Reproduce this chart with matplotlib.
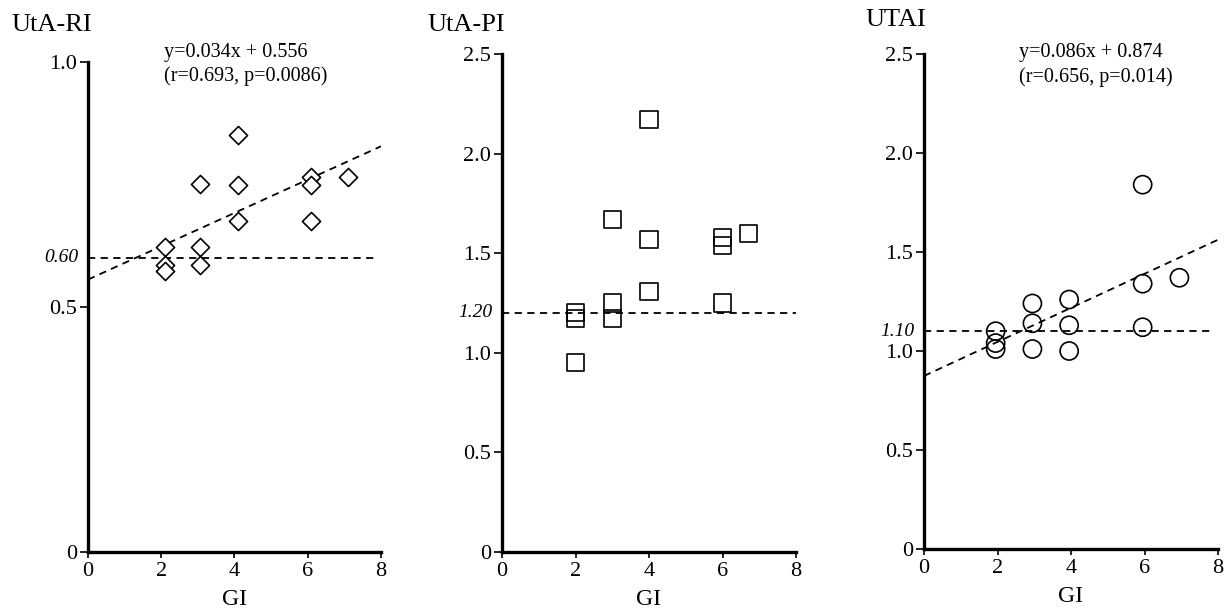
import matplotlib
matplotlib.use("Agg")
import matplotlib.pyplot as plt
import numpy as np

plt.rcParams["font.family"] = ["Liberation Serif", "DejaVu Serif"]

# UtA-RI panel
gi_ri = [4.1, 3.05, 4.1, 6.1, 6.1, 7.1, 4.1, 6.1, 2.1, 3.05, 2.1, 2.1, 3.05]
ri = [0.852, 0.752, 0.750, 0.765, 0.750, 0.765, 0.675, 0.675, 0.623, 0.623, 0.586, 0.573, 0.586]
ri_fit = [0.034, 0.556]
ri_cut = 0.60

# UtA-PI panel
gi_pi = [4, 3, 4, 6, 6, 6.7, 4, 3, 6, 3, 2, 2, 2]
pi = [2.17, 1.67, 1.57, 1.58, 1.54, 1.60, 1.31, 1.25, 1.25, 1.17, 1.20, 1.17, 0.95]
pi_cut = 1.20

# UTAI panel
gi_ut = [5.95, 5.95, 6.95, 2.95, 3.95, 2.95, 3.95, 5.95, 1.95, 1.95, 1.95, 2.95, 3.95]
ut = [1.84, 1.34, 1.37, 1.24, 1.26, 1.14, 1.13, 1.12, 1.10, 1.04, 1.01, 1.01, 1.00]
ut_fit = [0.086, 0.874]
ut_cut = 1.10

x_ticks = [0, 2, 4, 6, 8]

fig = plt.figure(figsize=(12.29, 6.15), dpi=100)
W, H = 1229, 615


def make_ax(left, top, right, bottom, ymax, yticks, ylabels):
    ax = fig.add_axes([left / W, 1 - bottom / H, (right - left) / W, (bottom - top) / H])
    ax.set_xlim(0, 8)
    ax.set_ylim(0, ymax)
    for s in ["top", "right"]:
        ax.spines[s].set_visible(False)
    for s in ["left", "bottom"]:
        ax.spines[s].set_linewidth(2.4)
    ax.set_xticks(x_ticks)
    ax.set_yticks(yticks)
    ax.set_yticklabels(ylabels)
    ax.tick_params(axis="y", length=6, width=1.2, labelsize=16, pad=2)
    ax.tick_params(axis="x", length=4, width=1.2, labelsize=16, pad=3)
    ax.set_xlabel("GI", fontsize=17, labelpad=6)
    return ax


dash = (0, (4, 3))

# panel 1
ax1 = make_ax(88, 62, 381, 552, 1.0, [0, 0.5, 1.0], ["0", "0.5", "1.0"])
ax1.scatter(gi_ri, ri, marker="D", s=85, facecolors="white", edgecolors="black",
            linewidths=1.2, zorder=3, clip_on=False)
xx = np.array([0, 8])
ax1.plot(xx, ri_fit[0] * xx + ri_fit[1], color="black", lw=1.3, linestyle=dash)
ax1.plot([0, 7.8], [ri_cut, ri_cut], color="black", lw=1.3, linestyle=dash)
ax1.text(-0.25, ri_cut, "0.60", style="italic", fontsize=14, ha="right", va="center")
fig.text(11 / W, 1 - 25 / H, "UtA-RI", fontsize=19, ha="left", va="center")
fig.text(164 / W, 1 - 52 / H, "y=0.034x + 0.556", fontsize=14.5, ha="left", va="center")
fig.text(164 / W, 1 - 76 / H, "(r=0.693, p=0.0086)", fontsize=14.5, ha="left", va="center")

# panel 2
ax2 = make_ax(502, 54, 796, 552, 2.5, [0, 0.5, 1.0, 1.5, 2.0, 2.5],
              ["0", "0.5", "1.0", "1.5", "2.0", "2.5"])
ax2.scatter(gi_pi, pi, marker="s", s=150, facecolors="none", edgecolors="black",
            linewidths=1.2, zorder=3, clip_on=False)
ax2.plot([0, 8], [pi_cut, pi_cut], color="black", lw=1.3, linestyle=dash, clip_on=False)
ax2.text(-0.25, pi_cut, "1.20", style="italic", fontsize=14, ha="right", va="center")
fig.text(427 / W, 1 - 25 / H, "UtA-PI", fontsize=19, ha="left", va="center")

# panel 3
ax3 = make_ax(924, 54, 1218, 549, 2.5, [0, 0.5, 1.0, 1.5, 2.0, 2.5],
              ["0", "0.5", "1.0", "1.5", "2.0", "2.5"])
ax3.scatter(gi_ut, ut, marker="o", s=170, facecolors="none", edgecolors="black",
            linewidths=1.2, zorder=3, clip_on=False)
ax3.plot(xx, ut_fit[0] * xx + ut_fit[1], color="black", lw=1.3, linestyle=dash)
ax3.plot([0, 7.9], [ut_cut, ut_cut], color="black", lw=1.3, linestyle=dash)
ax3.text(-0.25, ut_cut, "1.10", style="italic", fontsize=14, ha="right", va="center")
fig.text(865 / W, 1 - 20 / H, "UTAI", fontsize=19, ha="left", va="center")
fig.text(1019 / W, 1 - 52 / H, "y=0.086x + 0.874", fontsize=14.5, ha="left", va="center")
fig.text(1019 / W, 1 - 77 / H, "(r=0.656, p=0.014)", fontsize=14.5, ha="left", va="center")

fig.savefig("out.png", dpi=100)
